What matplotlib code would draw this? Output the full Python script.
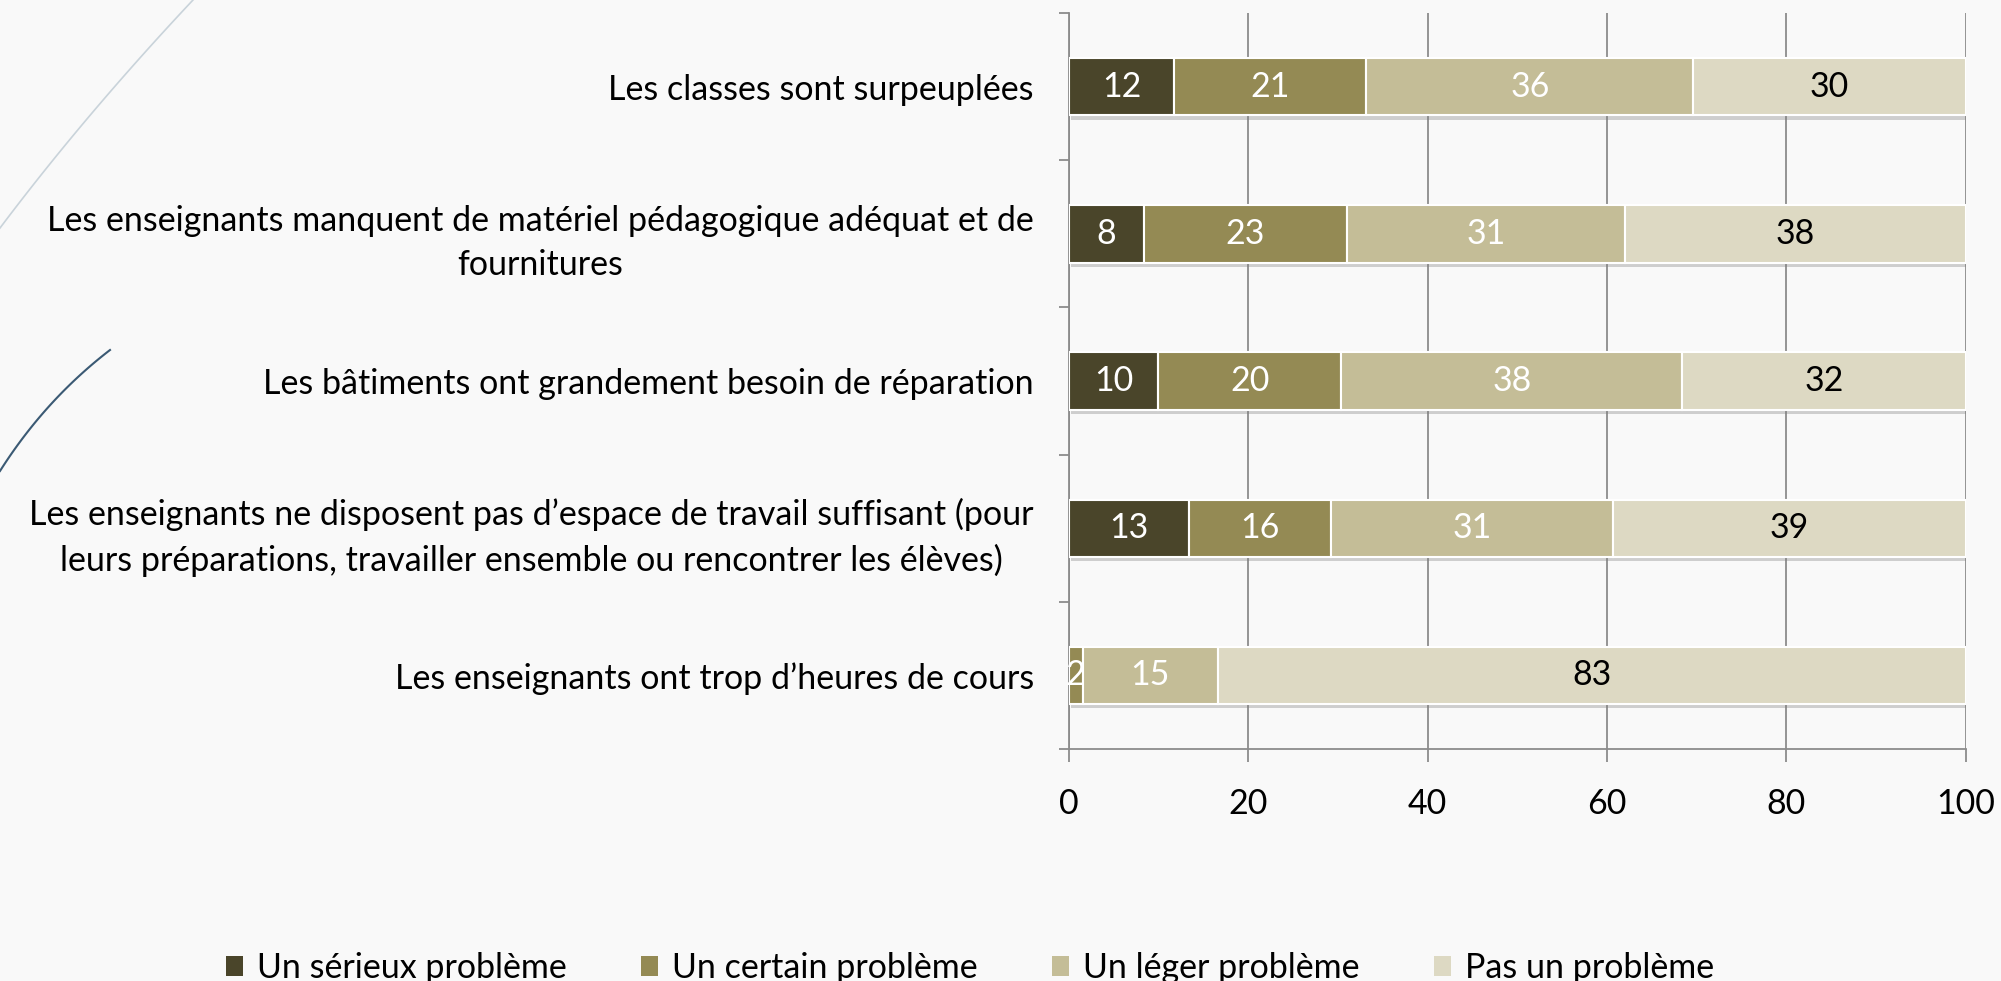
import numpy as np
import matplotlib.pyplot as plt
from matplotlib.lines import Line2D
from matplotlib.patches import Patch
import matplotlib.patheffects as pe

plt.rcParams['font.family'] = ['Lato', 'DejaVu Sans']

# Categories (top to bottom)
categories = [
    "Les classes sont surpeuplées",
    "Les enseignants manquent de matériel pédagogique adéquat et de\nfournitures",
    "Les bâtiments ont grandement besoin de réparation",
    "Les enseignants ne disposent pas d\u2019espace de travail suffisant (pour\nleurs préparations, travailler ensemble ou rencontrer les élèves)",
    "Les enseignants ont trop d\u2019heures de cours",
]

series_names = ["Un sérieux problème", "Un certain problème", "Un léger problème", "Pas un problème"]

serieux = [11.8, 8.4, 10.0, 13.4, 0.0]
certain = [21.4, 22.6, 20.4, 15.9, 1.6]
leger = [36.4, 31.0, 38.0, 31.4, 15.0]
pas_un = [30.4, 38.0, 31.6, 39.3, 83.4]

colors = ["#4a452a", "#948a54", "#c4bd97", "#ddd9c3"]
label_colors = ["white", "white", "white", "black"]

x_ticks = [0, 20, 40, 60, 80, 100]

FS = 24.5

fig = plt.figure(figsize=(20.01, 9.81), dpi=100, facecolor="#f9f9f9")

# decorative curves on the left
def curve(p0, p1, p2, color, lw):
    t = np.linspace(0, 1, 60)
    xs = (1 - t) ** 2 * p0[0] + 2 * (1 - t) * t * p1[0] + t ** 2 * p2[0]
    ys = (1 - t) ** 2 * p0[1] + 2 * (1 - t) * t * p1[1] + t ** 2 * p2[1]
    fig.add_artist(Line2D(xs / 2001, 1 - ys / 981, color=color, lw=lw, transform=fig.transFigure))

curve((0, 228), (85, 115), (193, 0), "#c9d3da", 1.2)
curve((0, 471), (45, 400), (110, 350), "#3b5a74", 1.5)

ax = fig.add_axes([0.534, 0.2365, 0.4485, 0.7502])
ax.set_facecolor("none")

y = np.arange(len(categories))
left = np.zeros(len(categories))
shadow = [pe.SimplePatchShadow(offset=(1.5, -3), shadow_rgbFace="#808080", alpha=0.35), pe.Normal()]
for vals, col, lcol, name in zip([serieux, certain, leger, pas_un], colors, label_colors, series_names):
    bars = ax.barh(y, vals, left=left, height=0.39, color=col, edgecolor="white",
                   linewidth=1.5, label=name, zorder=3)
    for b in bars:
        b.set_path_effects(shadow)
    for yi, v, l in zip(y, vals, left):
        if v > 0:
            ax.text(l + v / 2, yi, f"{v:.0f}", ha="center", va="center",
                    color=lcol, fontsize=FS, zorder=4)
    left = left + np.array(vals)

ax.set_xlim(0, 100)
ax.set_ylim(len(categories) - 0.5, -0.5)
ax.set_xticks(x_ticks)
ax.set_xticklabels([str(v) for v in x_ticks], fontsize=FS)
ax.set_yticks(y)
ax.set_yticklabels(categories, fontsize=FS)
for lab in ax.get_yticklabels():
    lab.set_multialignment("center")
    lab.set_linespacing(1.45)
ax.set_yticks(np.arange(-0.5, len(categories)), minor=True)

ax.tick_params(axis="y", which="major", length=0, pad=25)
ax.tick_params(axis="y", which="minor", length=7, width=1.3, color="#8c8c8c", direction="out")
ax.tick_params(axis="x", length=9, width=1.3, color="#8c8c8c", direction="out", pad=19)

ax.grid(axis="x", color="#8c8c8c", linewidth=1.3, zorder=0)
ax.set_axisbelow(True)
for s in ["top", "right"]:
    ax.spines[s].set_visible(False)
for s in ["left", "bottom"]:
    ax.spines[s].set_color("#8c8c8c")
    ax.spines[s].set_linewidth(1.3)

handles = [Patch(facecolor=c, edgecolor="none") for c in colors]
fig.legend(handles, series_names, loc="center", bbox_to_anchor=(970 / 2001, 1 - 968 / 981),
           ncol=4, frameon=False, fontsize=FS, handlelength=0.5, handleheight=0.5,
           handletextpad=0.4, columnspacing=2.2)

fig.savefig("out.png", dpi=100, facecolor=fig.get_facecolor())
